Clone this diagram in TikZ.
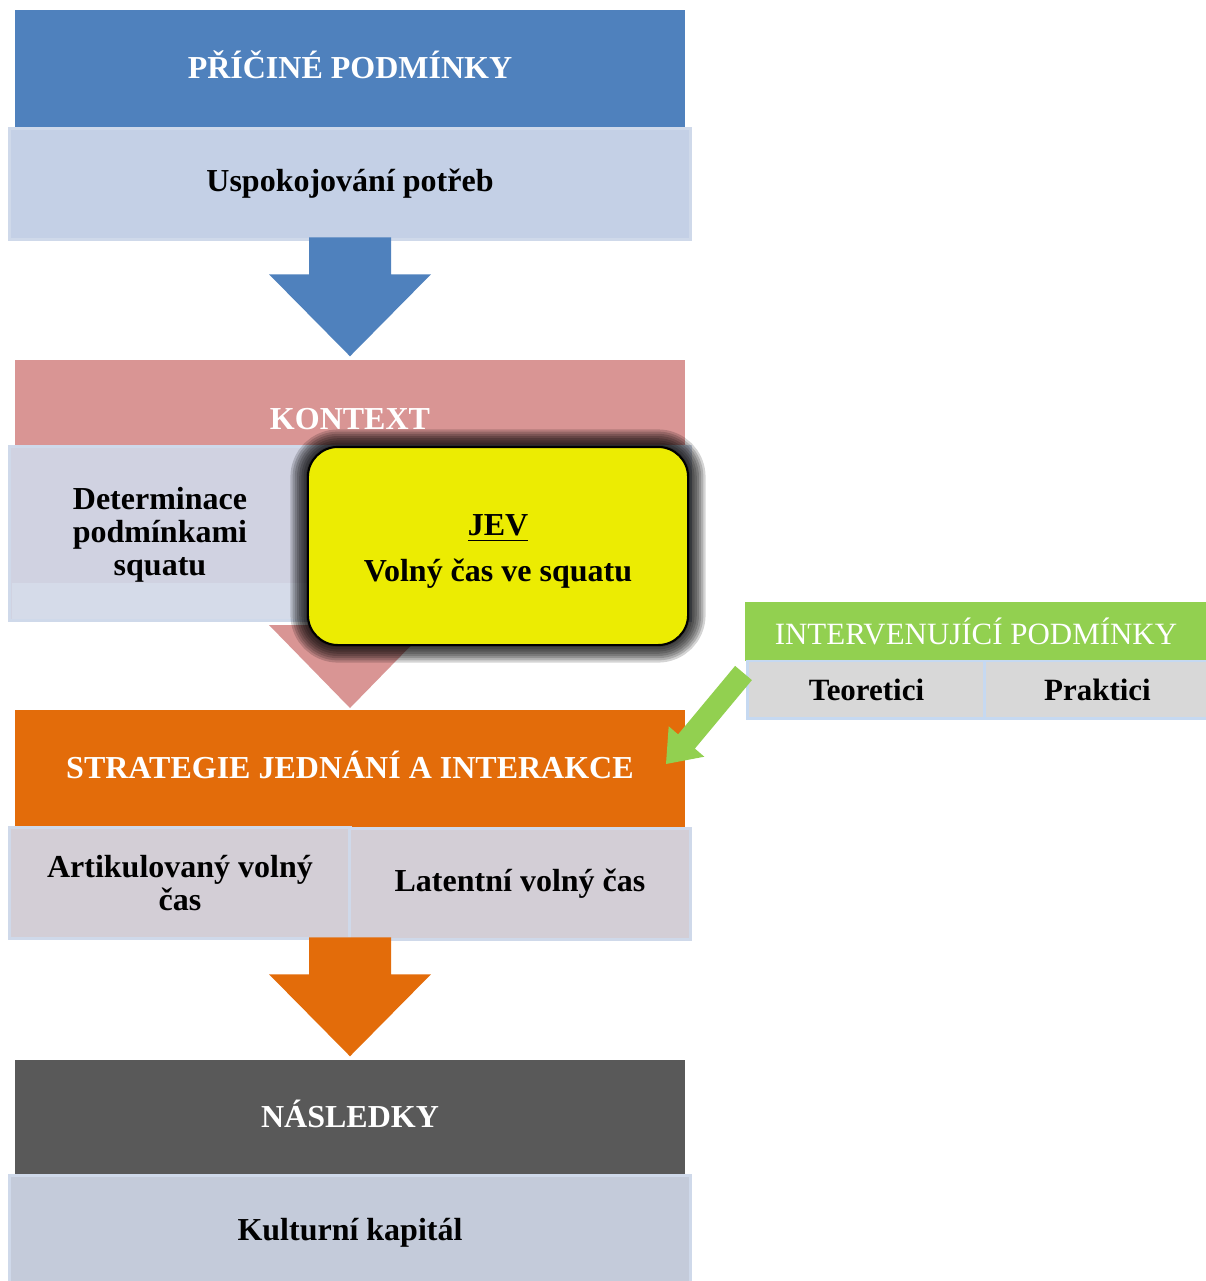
\documentclass[tikz,border=0pt]{standalone}
\usepackage{fontspec}
\setmainfont{Liberation Serif}
\usetikzlibrary{calc}

\definecolor{bluehd}{HTML}{4F81BD}
\definecolor{bluesub}{HTML}{C4D0E6}
\definecolor{pinkhd}{HTML}{D99594}
\definecolor{ctxsub}{HTML}{D0D2E1}
\definecolor{ctxband}{HTML}{D5DBE9}
\definecolor{orangehd}{HTML}{E36C0A}
\definecolor{stratsub}{HTML}{D3CED6}
\definecolor{darkhd}{HTML}{595959}
\definecolor{conssub}{HTML}{C4CBDA}
\definecolor{greenhd}{HTML}{92D050}
\definecolor{intsub}{HTML}{D8D8D8}
\definecolor{intline}{HTML}{C6D9F1}
\definecolor{subline}{HTML}{CFD9EA}
\definecolor{jevyellow}{HTML}{ECEC02}

\tikzset{
  headbox/.style={rectangle, inner sep=0pt, minimum width=6.7cm, text=white,
    text height=0.7em, text depth=0.15em, font=\fontsize{9.1}{9.4}\selectfont\bfseries},
  subbox/.style={rectangle, inner sep=0pt, draw=subline, line width=0.85pt,
    align=center, font=\fontsize{9.1}{9.4}\selectfont\bfseries},
  subtext/.style={align=center, inner sep=0pt, font=\fontsize{9.1}{9.4}\selectfont\bfseries},
}

\begin{document}
\begin{tikzpicture}[x=0.01cm, y=-0.01cm]
\useasboundingbox (0,0) rectangle (1205,1281);

% causal conditions
\node[headbox, fill=bluehd, minimum height=1.18cm] (causehd) at (350,69) {PŘÍČINÉ PODMÍNKY};
\node[subbox, fill=bluesub, minimum width=6.8cm, minimum height=1.1cm] (causesub) at (350,184) {Uspokojování potřeb};

% context
\node[headbox, fill=pinkhd, minimum height=0.87cm] (ctxhd) at (350,403.5) {};
\node[headbox, minimum width=0cm] (ctxtitle) at (350,420) {KONTEXT};
\fill[bluehd] ($(ctxhd.north)+(0,-3)$) -- ++(-81,-82) -- ++(40,0) -- ++(0,-37)
  -- ++(82,0) -- ++(0,37) -- ++(40,0) -- cycle;
\node[subbox, fill=ctxsub, minimum width=6.8cm, minimum height=1.73cm] (ctxsub) at (350,533.5) {};
\fill[ctxband] (11.5,583) rectangle (688.5,618.5);
\node[subtext] (ctxtext) at (160,535) {Determinace\\podmínkami\\squatu};
\fill[pinkhd] (269,625) -- (431,625) -- (350,708) -- cycle;

% phenomenon
\foreach \w [evaluate=\w as \lw using \w*1.25] in {1,...,8}
  \draw[black, opacity=0.17, line width=\lw pt, rounded corners=0.3cm] (308,447) rectangle (688,645);
\node[rectangle, draw=black, line width=0.6pt, fill=jevyellow, rounded corners=0.3cm,
  minimum width=3.8cm, minimum height=1.98cm] (jev) at (498,546) {};
\node[subtext] (jevtext) at (498,551) {\underline{JEV}\\[3.7pt]Volný čas ve squatu};

% strategies
\node[headbox, fill=orangehd, minimum height=1.18cm] (strathd) at (350,769) {STRATEGIE JEDNÁNÍ A INTERAKCE};
\node[subbox, fill=stratsub, minimum width=3.4cm, minimum height=1.1cm] (artic) at (180,883) {Artikulovaný volný\\čas};
\node[subbox, fill=stratsub, minimum width=3.4cm, minimum height=1.1cm] (latent) at (520,884) {Latentní volný čas};

% intervening conditions
\node[rectangle, inner sep=0pt, fill=greenhd, minimum width=4.62cm, minimum height=0.59cm, text=white,
  font=\fontsize{8.8}{9}\selectfont] (inthd) at (976,631.5) {INTERVENUJÍCÍ PODMÍNKY};
\node[subbox, fill=intsub, draw=intline, minimum width=2.37cm, minimum height=0.57cm,
  font=\fontsize{8.8}{9}\selectfont\bfseries] (theor) at (866.5,689.5) {Teoretici};
\node[subbox, fill=intsub, draw=intline, minimum width=2.25cm, minimum height=0.57cm,
  font=\fontsize{8.8}{9}\selectfont\bfseries] (pract) at (1097.5,689.5) {Praktici};
\fill[greenhd] (735.1,665.9) -- (751.9,680.1) -- (694.9,748.6) -- (704.3,756.7)
  -- (666,764) -- (668.7,726.3) -- (678.1,734.4) -- cycle;

% consequences
\node[headbox, fill=darkhd, minimum height=1.15cm] (conshd) at (350,1117.5) {NÁSLEDKY};
\fill[orangehd] ($(conshd.north)+(0,-3)$) -- ++(-81,-82) -- ++(40,0) -- ++(0,-37)
  -- ++(82,0) -- ++(0,37) -- ++(40,0) -- cycle;
\node[subbox, fill=conssub, minimum width=6.8cm, minimum height=1.15cm] (conssub) at (350,1233) {Kulturní kapitál};
\end{tikzpicture}
\end{document}
